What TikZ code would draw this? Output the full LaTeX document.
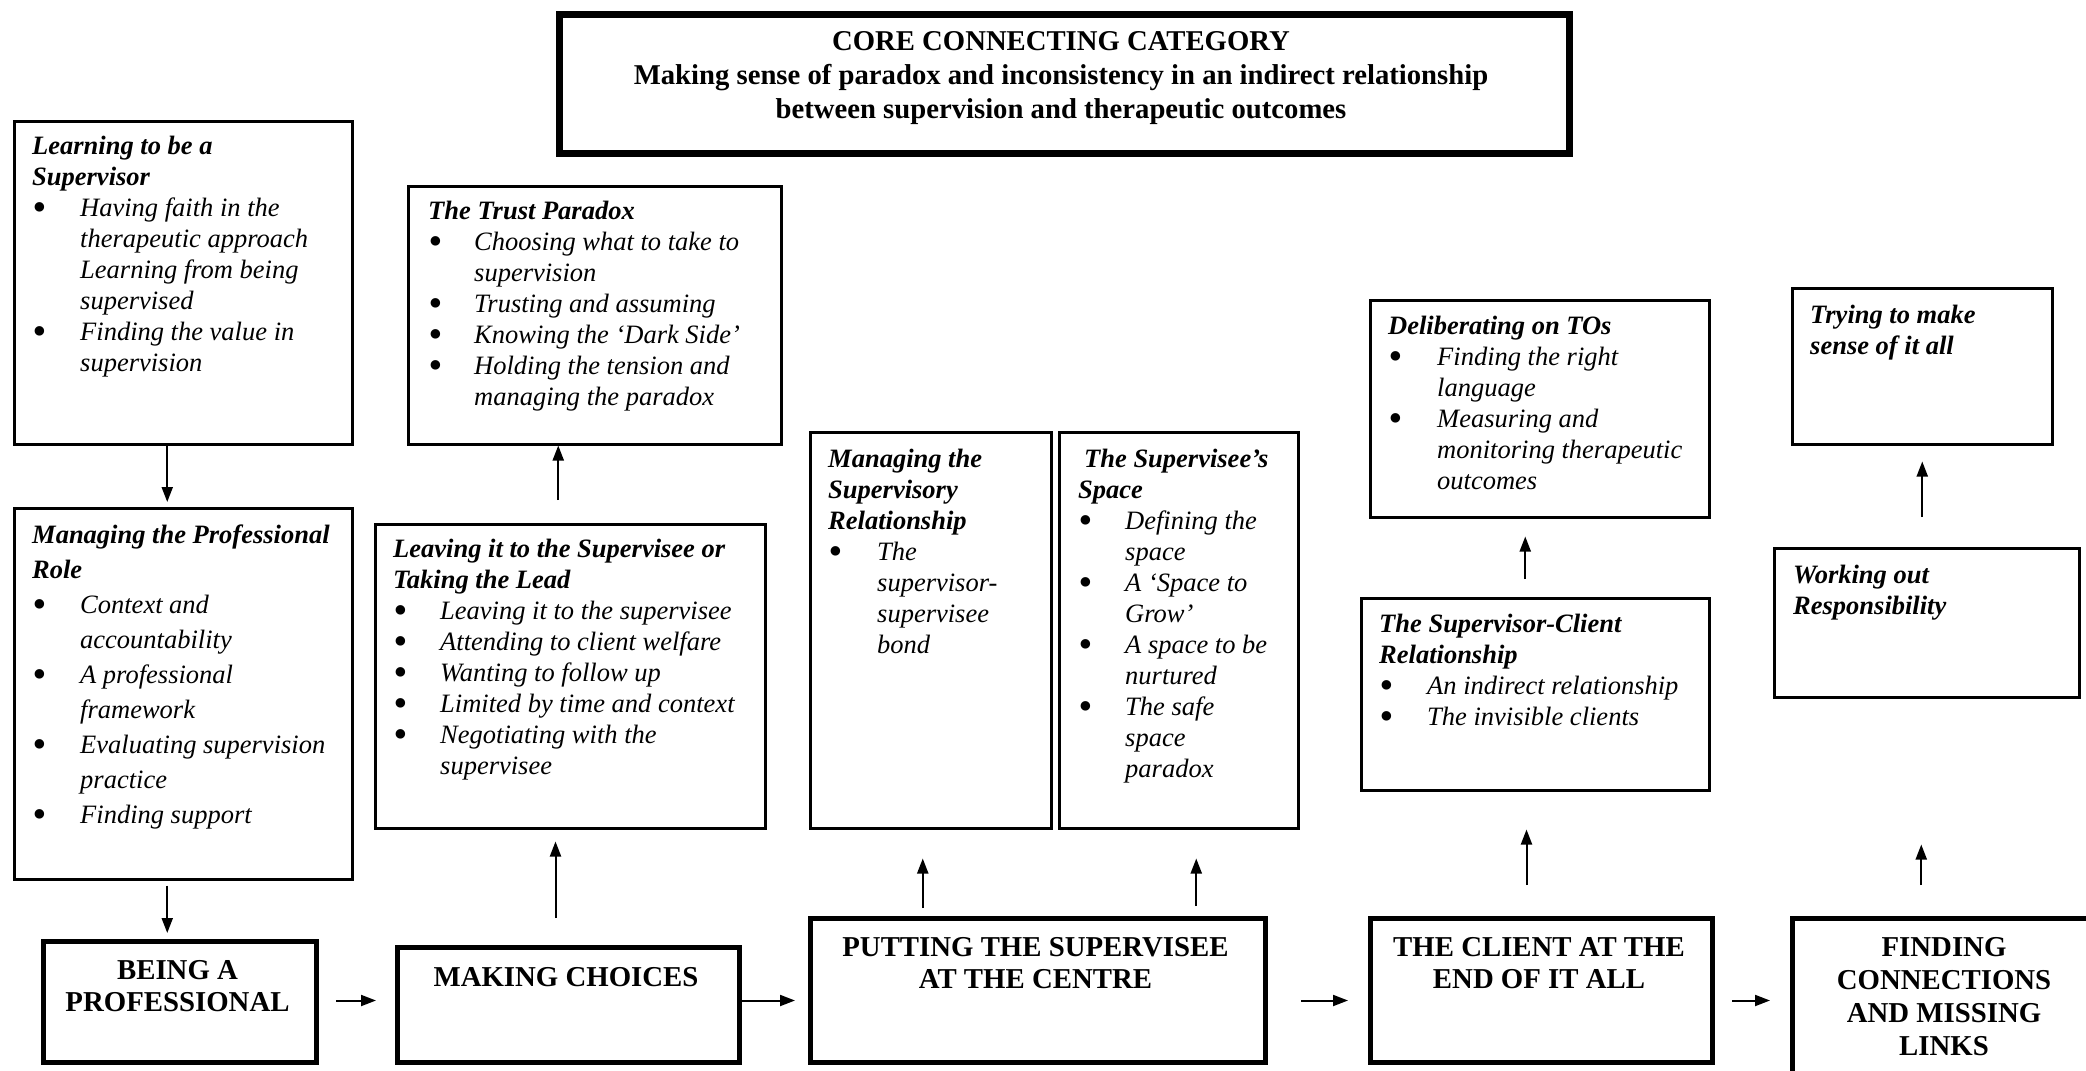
\documentclass[tikz,border=0pt]{standalone}
\usepackage{fontspec}
\setmainfont{Liberation Serif}
\usetikzlibrary{arrows.meta}
\newcommand\mytitle[1]{\multicolumn{2}{@{}l@{}}{\bfseries #1}}
\newcommand\mybul{\raisebox{-4pt}{\scalebox{1.5}{\textbullet}}}
\begin{document}
\begin{tikzpicture}[x=1pt,y=-1pt,
  tbox/.style={draw, line width=2.5pt, inner sep=0pt, anchor=north west},
  kbox/.style={draw, line width=5pt, inner sep=0pt, anchor=north west},
  arr/.style={line width=2pt, -{Triangle[length=15pt,width=11pt]}},
  body/.style={inner sep=0pt, anchor=north west, font=\fontsize{26.5}{31}\selectfont\itshape},
  bodyw/.style={inner sep=0pt, anchor=north west, font=\fontsize{26.5}{35}\selectfont\itshape},
  big/.style={inner sep=0pt, anchor=north, font=\fontsize{28.8}{32}\selectfont\bfseries},
  head/.style={inner sep=0pt, anchor=north, font=\fontsize{28.7}{34}\selectfont\bfseries}]
\useasboundingbox (0,0) rectangle (2086,1071);
\clip (0,0) rectangle (2086,1071);

% header
\node[kbox, line width=7pt, minimum width=1010pt, minimum height=139pt] (core) at (556,11) {};
\node[head] (coreT) at (1061,26) {\begin{tabular}{@{}c@{}}CORE CONNECTING CATEGORY\\
Making sense of paradox and inconsistency in an indirect relationship\\
between supervision and therapeutic outcomes\end{tabular}};

% upper boxes
\node[tbox, minimum width=338pt, minimum height=323pt] (learn) at (13,120) {};
\node[body] (learnT) at (32,133) {\begin{tabular}{@{}p{48pt}@{}l@{}}
\mytitle{Learning to be a}\\
\mytitle{Supervisor}\\
\mybul & Having faith in the\\
 & therapeutic approach\\
 & Learning from being\\
 & supervised\\
\mybul & Finding the value in\\
 & supervision
\end{tabular}};

\node[tbox, minimum width=373pt, minimum height=258pt] (trust) at (407,185) {};
\node[body] (trustT) at (428,198) {\begin{tabular}{@{}p{46pt}@{}l@{}}
\mytitle{The Trust Paradox}\\
\mybul & Choosing what to take to\\
 & supervision\\
\mybul & Trusting and assuming\\
\mybul & Knowing the `Dark Side'\\
\mybul & Holding the tension and\\
 & managing the paradox
\end{tabular}};

\node[tbox, minimum width=338pt, minimum height=371pt] (prof) at (13,507) {};
\node[bodyw] (profT) at (32,519) {\begin{tabular}{@{}p{48pt}@{}l@{}}
\mytitle{Managing the Professional}\\
\mytitle{Role}\\
\mybul & Context and\\
 & accountability\\
\mybul & A professional\\
 & framework\\
\mybul & Evaluating supervision\\
 & practice\\
\mybul & Finding support
\end{tabular}};

\node[tbox, minimum width=390pt, minimum height=304pt] (leave) at (374,523) {};
\node[body] (leaveT) at (393,536) {\begin{tabular}{@{}p{47pt}@{}l@{}}
\mytitle{Leaving it to the Supervisee or}\\
\mytitle{Taking the Lead}\\
\mybul & Leaving it to the supervisee\\
\mybul & Attending to client welfare\\
\mybul & Wanting to follow up\\
\mybul & Limited by time and context\\
\mybul & Negotiating with the\\
 & supervisee
\end{tabular}};

\node[tbox, minimum width=241pt, minimum height=396pt] (msr) at (809,431) {};
\node[body] (msrT) at (828,446) {\begin{tabular}{@{}p{49pt}@{}l@{}}
\mytitle{Managing the}\\
\mytitle{Supervisory}\\
\mytitle{Relationship}\\
\mybul & The\\
 & supervisor-\\
 & supervisee\\
 & bond
\end{tabular}};

\node[tbox, minimum width=239pt, minimum height=396pt] (space) at (1058,431) {};
\node[body] (spaceT) at (1078,446) {\begin{tabular}{@{}p{47pt}@{}l@{}}
\mytitle{\hspace{6pt}The Supervisee's}\\
\mytitle{Space}\\
\mybul & Defining the\\
 & space\\
\mybul & A `Space to\\
 & Grow'\\
\mybul & A space to be\\
 & nurtured\\
\mybul & The safe\\
 & space\\
 & paradox
\end{tabular}};

\node[tbox, minimum width=339pt, minimum height=217pt] (delib) at (1369,299) {};
\node[body] (delibT) at (1388,313) {\begin{tabular}{@{}p{49pt}@{}l@{}}
\mytitle{Deliberating on TOs}\\
\mybul & Finding the right\\
 & language\\
\mybul & Measuring and\\
 & monitoring therapeutic\\
 & outcomes
\end{tabular}};

\node[tbox, minimum width=260pt, minimum height=156pt] (trying) at (1791,287) {};
\node[body] (tryingT) at (1810,302) {\begin{tabular}{@{}l@{}}
\bfseries Trying to make\\
\bfseries sense of it all
\end{tabular}};

\node[tbox, minimum width=348pt, minimum height=192pt] (supcl) at (1360,597) {};
\node[body] (supclT) at (1379,611) {\begin{tabular}{@{}p{48pt}@{}l@{}}
\mytitle{The Supervisor-Client}\\
\mytitle{Relationship}\\
\mybul & An indirect relationship\\
\mybul & The invisible clients
\end{tabular}};

\node[tbox, minimum width=305pt, minimum height=149pt] (work) at (1773,547) {};
\node[body] (workT) at (1793,562) {\begin{tabular}{@{}l@{}}
\bfseries Working out\\
\bfseries Responsibility
\end{tabular}};

% bottom boxes
\node[kbox, minimum width=273pt, minimum height=121pt] (being) at (41,939) {};
\node[big] (beingT) at (177.5,956.6) {\begin{tabular}{@{}c@{}}BEING A\\PROFESSIONAL\end{tabular}};

\node[kbox, minimum width=342pt, minimum height=115pt] (making) at (395,945) {};
\node[big] (makingT) at (566,963.6) {\begin{tabular}{@{}c@{}}MAKING CHOICES\end{tabular}};

\node[kbox, minimum width=455pt, minimum height=144pt] (putting) at (808,916) {};
\node[big] (puttingT) at (1035.5,933.6) {\begin{tabular}{@{}c@{}}PUTTING THE SUPERVISEE\\AT THE CENTRE\end{tabular}};

\node[kbox, minimum width=342pt, minimum height=144pt] (client) at (1368,916) {};
\node[big] (clientT) at (1539,933.6) {\begin{tabular}{@{}c@{}}THE CLIENT AT THE\\END OF IT ALL\end{tabular}};

\node[kbox, minimum width=308pt, minimum height=190pt] (finding) at (1790,916) {};
\node[big, font=\fontsize{28.8}{33}\selectfont\bfseries] (findingT) at (1944,933.6) {\begin{tabular}{@{}c@{}}FINDING\\CONNECTIONS\\AND MISSING\\LINKS\end{tabular}};

% vertical arrows
\draw[arr, shorten >=5pt] ([xshift=-16pt]learn.south) -- ([xshift=-16pt]learn.south |- prof.north);
\draw[arr, shorten <=5pt, shorten >=6pt] ([xshift=-16pt]prof.south) -- ([xshift=-16pt]prof.south |- being.north);
\draw[arr, shorten <=27pt, shorten >=12pt] ([xshift=-13pt]making.north) -- ([xshift=-13pt]making.north |- leave.south);
\draw[arr, shorten <=23pt] ([xshift=-12pt]leave.north) -- ([xshift=-12pt]leave.north |- trust.south);
\draw[arr, shorten <=8pt, shorten >=29pt] ([xshift=-8pt]msr.south |- putting.north) -- ([xshift=-8pt]msr.south);
\draw[arr, shorten <=10pt, shorten >=29pt] ([xshift=17.5pt]space.south |- putting.north) -- ([xshift=17.5pt]space.south);
\draw[arr, shorten <=31pt, shorten >=38pt] ([xshift=-15pt]client.north) -- ([xshift=-15pt]client.north |- supcl.south);
\draw[arr, shorten <=18pt, shorten >=18pt] ([xshift=-10pt]supcl.north) -- ([xshift=-10pt]supcl.north |- delib.south);
\draw[arr, shorten <=31pt, shorten >=146pt] ([xshift=-5.5pt]work.south |- finding.north) -- ([xshift=-5.5pt]work.south);
\draw[arr, shorten <=30pt, shorten >=16pt] ([xshift=-4.5pt]work.north) -- ([xshift=-4.5pt]work.north |- trying.south);

% horizontal arrows
\draw[arr, shorten <=17pt, shorten >=19pt] ([yshift=1.5pt]being.east) -- ([yshift=1.5pt]being.east -| making.west);
\draw[arr, shorten >=13pt] ([yshift=4.5pt]making.east) -- ([yshift=4.5pt]making.east -| putting.west);
\draw[arr, shorten <=33pt, shorten >=20pt] ([yshift=-10pt]putting.east) -- ([yshift=-10pt]putting.east -| client.west);
\draw[arr, shorten <=17pt, shorten >=20pt] ([yshift=-10pt]client.east) -- ([yshift=-10pt]client.east -| finding.west);
\end{tikzpicture}
\end{document}
